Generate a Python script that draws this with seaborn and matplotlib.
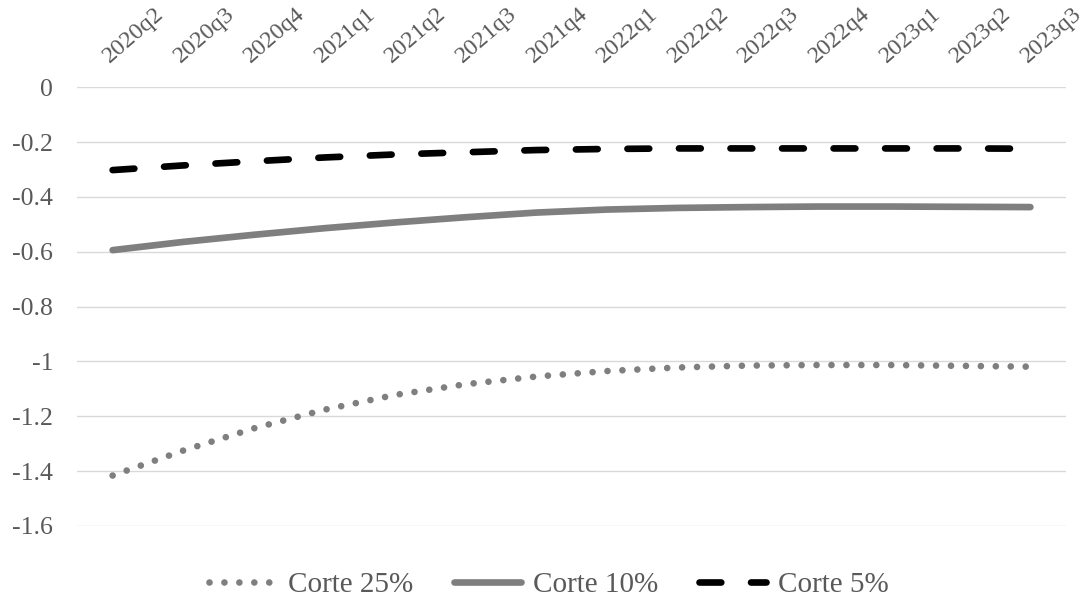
import matplotlib
matplotlib.use("Agg")
import matplotlib.pyplot as plt
import matplotlib.transforms as mtransforms
from matplotlib.lines import Line2D
import numpy as np
import seaborn as sns

# Quarterly paths for each cut-off scenario
quarters = ["2020q2", "2020q3", "2020q4", "2021q1", "2021q2", "2021q3", "2021q4",
            "2022q1", "2022q2", "2022q3", "2022q4", "2023q1", "2023q2", "2023q3"]
corte_25 = [-1.416, -1.325, -1.244, -1.176, -1.122, -1.083, -1.055,
            -1.035, -1.022, -1.015, -1.013, -1.013, -1.016, -1.019]
corte_10 = [-0.594, -0.564, -0.538, -0.514, -0.493, -0.474, -0.457,
            -0.446, -0.440, -0.437, -0.435, -0.435, -0.436, -0.437]
corte_5 = [-0.302, -0.285, -0.270, -0.256, -0.245, -0.237, -0.229,
           -0.225, -0.223, -0.223, -0.223, -0.223, -0.223, -0.224]
series_names = ["Corte 25%", "Corte 10%", "Corte 5%"]
y_ticks = [0, -0.2, -0.4, -0.6, -0.8, -1, -1.2, -1.4, -1.6]
y_tick_labels = ["0", "-0.2", "-0.4", "-0.6", "-0.8", "-1", "-1.2", "-1.4", "-1.6"]

sns.set_theme(style="white")
plt.rcParams["font.family"] = ["Liberation Serif", "DejaVu Serif"]

TEXT = "#595959"
GREY = "#7f7f7f"
LW = 4.8

styles = [
    dict(color=GREY, linestyle=(0, (0.001, 2.24))),
    dict(color=GREY, linestyle="-"),
    dict(color="black", linestyle=(0, (3.27, 4.46))),
]

fig = plt.figure(figsize=(10.89, 5.99), dpi=100)
ax = fig.add_axes([0.0710, 0.1219, 0.9076, 0.7324])

x = np.arange(len(quarters))
for vals, st in zip([corte_25, corte_10, corte_5], styles):
    sns.lineplot(x=x, y=vals, ax=ax, linewidth=LW, legend=False,
                 solid_capstyle="round", dash_capstyle="round", **st)

ax.set_xlim(-0.5, len(quarters) - 0.5)
ax.set_ylim(-1.6, 0)
ax.set_yticks(y_ticks)
ax.set_yticklabels(y_tick_labels)
ax.yaxis.grid(True, color="#d9d9d9", linewidth=1.0)
ax.xaxis.grid(False)
ax.set_axisbelow(True)
for sp in ax.spines.values():
    sp.set_visible(False)
ax.set_xlabel("")
ax.set_ylabel("")

ax.tick_params(axis="y", length=0, pad=17.3, labelsize=18.5, labelcolor=TEXT)
ax.xaxis.tick_top()
ax.set_xticks(x)
ax.set_xticklabels(quarters, rotation=41, ha="left", va="baseline",
                   rotation_mode="anchor")
ax.tick_params(axis="x", length=0, pad=17.3, labelsize=17.5, labelcolor=TEXT)
shift = mtransforms.ScaledTranslation(-3 / 100, 0, fig.dpi_scale_trans)
for lab in ax.get_xticklabels():
    lab.set_transform(lab.get_transform() + shift)

handles = [Line2D([], [], linewidth=LW, solid_capstyle="round",
                  dash_capstyle="round", **st) for st in styles]
fig.legend(handles, series_names, loc="center",
           bbox_to_anchor=(549 / 1089, 1 - 585 / 599), ncol=3, frameon=False,
           fontsize=21, labelcolor=TEXT, handlelength=2.3, handletextpad=0.4,
           columnspacing=1.4, borderpad=0, borderaxespad=0)

fig.savefig("out.png", dpi=100)
